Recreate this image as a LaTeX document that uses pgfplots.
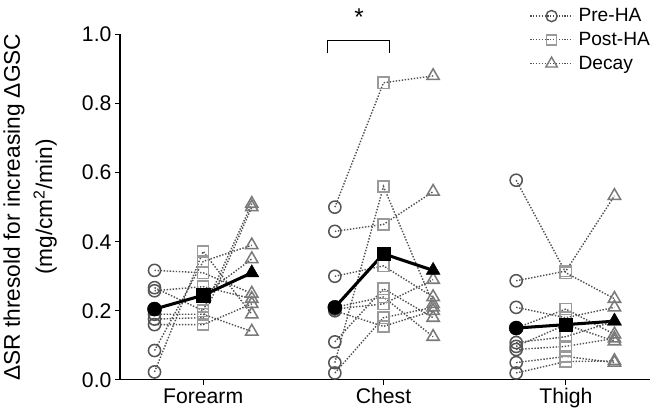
\documentclass[border=0pt]{standalone}
\usepackage{fontspec}
\setmainfont{Liberation Sans}
\usepackage{pgfplots}
\pgfplotsset{compat=1.18}
\definecolor{precol}{HTML}{555555}
\definecolor{postcol}{HTML}{9A9A9A}
\definecolor{decaycol}{HTML}{7A7A7A}
\definecolor{linecol}{HTML}{505050}
\pgfplotsset{
  subj/.style={forget plot, no marks, color=linecol, line width=1.4bp, dash pattern=on 1.4bp off 1.6bp},
  premk/.style={only marks, mark=o, mark size=6bp, mark options={draw=precol, line width=1.5bp, fill=none}},
  postmk/.style={only marks, mark=square, mark size=5.5bp, mark options={draw=postcol, line width=1.5bp, fill=none}},
  decaymk/.style={only marks, mark=triangle, mark size=7bp, mark options={draw=decaycol, line width=1.5bp, fill=none}},
}
\begin{document}
\begin{tikzpicture}
\begin{axis}[
  scale only axis, width=523bp, height=341bp,
  xmin=127, xmax=650, ymin=0, ymax=1,
  axis x line=bottom, axis y line=left,
  axis line style={-, line width=1.2bp, black},
  xtick={209,387,567}, xticklabels={Forearm,Chest,Thigh},
  ytick={0,0.2,0.4,0.6,0.8,1.0},
  yticklabel style={/pgf/number format/.cd, fixed, fixed zerofill, precision=1},
  /pgf/number format/assume math mode=true,
  tick align=outside, major tick length=5bp,
  tick style={black, line width=1.2bp},
  ticklabel style={font=\fontsize{21}{24}\selectfont},
  xticklabel style={yshift=0bp},
  ylabel={ΔSR thresold for increasing ΔGSC\\(mg/cm\textsuperscript{2}/min)},
  ylabel style={align=center, font=\fontsize{22.5}{32}\selectfont, yshift=18bp},
  clip=false,
  legend style={draw=none, fill=none, at={(rel axis cs:1.01,1.078)}, anchor=north east,
    font=\fontsize{19}{22}\selectfont, row sep=7bp, cells={anchor=west}, inner sep=0pt,
    nodes={inner xsep=5bp, inner ysep=1bp}},
  legend image code/.code={\draw[mark repeat=2,mark phase=2,#1] plot coordinates {(0bp,0bp) (21bp,0bp) (42bp,0bp)};},
]
\addlegendimage{color=linecol, line width=1.2bp, dash pattern=on 1.2bp off 1.6bp, mark=o, mark size=5.5bp, mark options={draw=precol, line width=1.4bp, solid, fill=none}}
\addlegendentry{Pre-HA}
\addlegendimage{color=linecol, line width=1.2bp, dash pattern=on 1.2bp off 1.6bp, mark=square, mark size=5bp, mark options={draw=postcol, line width=1.4bp, solid, fill=none}}
\addlegendentry{Post-HA}
\addlegendimage{color=linecol, line width=1.2bp, dash pattern=on 1.2bp off 1.6bp, mark=triangle, mark size=6.5bp, mark options={draw=decaycol, line width=1.4bp, solid, fill=none}}
\addlegendentry{Decay}

% Forearm subjects
\addplot[subj] coordinates {(161,0.317) (209,0.310) (257,0.250)};
\addplot[subj] coordinates {(161,0.267) (209,0.200) (257,0.510)};
\addplot[subj] coordinates {(161,0.258) (209,0.270) (257,0.235)};
\addplot[subj] coordinates {(161,0.205) (209,0.245) (257,0.350)};
\addplot[subj] coordinates {(161,0.176) (209,0.180) (257,0.500)};
\addplot[subj] coordinates {(161,0.160) (209,0.160) (257,0.220)};
\addplot[subj] coordinates {(161,0.085) (209,0.343) (257,0.390)};
\addplot[subj] coordinates {(161,0.023) (209,0.372) (257,0.190)};
\addplot[subj] coordinates {(161,0.190) (209,0.190) (257,0.140)};
% Chest subjects
\addplot[subj] coordinates {(339,0.500) (387,0.860) (436,0.880)};
\addplot[subj] coordinates {(339,0.430) (387,0.450) (436,0.545)};
\addplot[subj] coordinates {(339,0.300) (387,0.330) (436,0.240)};
\addplot[subj] coordinates {(339,0.210) (387,0.240) (436,0.125)};
\addplot[subj] coordinates {(339,0.050) (387,0.560) (436,0.220)};
\addplot[subj] coordinates {(339,0.110) (387,0.264) (436,0.180)};
\addplot[subj] coordinates {(339,0.205) (387,0.220) (436,0.290)};
\addplot[subj] coordinates {(339,0.020) (387,0.180) (436,0.210)};
\addplot[subj] coordinates {(339,0.200) (387,0.155) (436,0.200)};
% Thigh subjects
\addplot[subj] coordinates {(518,0.578) (567,0.310) (615,0.235)};
\addplot[subj] coordinates {(518,0.287) (567,0.315) (615,0.533)};
\addplot[subj] coordinates {(518,0.210) (567,0.180) (615,0.210)};
\addplot[subj] coordinates {(518,0.150) (567,0.205) (615,0.132)};
\addplot[subj] coordinates {(518,0.108) (567,0.125) (615,0.170)};
\addplot[subj] coordinates {(518,0.097) (567,0.160) (615,0.112)};
\addplot[subj] coordinates {(518,0.088) (567,0.097) (615,0.120)};
\addplot[subj] coordinates {(518,0.050) (567,0.068) (615,0.050)};
\addplot[subj] coordinates {(518,0.020) (567,0.053) (615,0.055)};

% markers
\addplot[premk, forget plot] coordinates {
 (161,0.317) (161,0.267) (161,0.258) (161,0.205) (161,0.176) (161,0.160) (161,0.085) (161,0.023) (161,0.190)
 (339,0.500) (339,0.430) (339,0.300) (339,0.210) (339,0.050) (339,0.110) (339,0.205) (339,0.020) (339,0.200)
 (518,0.578) (518,0.287) (518,0.210) (518,0.150) (518,0.108) (518,0.097) (518,0.088) (518,0.050) (518,0.020)};
\addplot[postmk, forget plot] coordinates {
 (209,0.310) (209,0.200) (209,0.270) (209,0.245) (209,0.180) (209,0.160) (209,0.343) (209,0.372) (209,0.190)
 (387,0.860) (387,0.450) (387,0.330) (387,0.240) (387,0.560) (387,0.264) (387,0.220) (387,0.180) (387,0.155)
 (567,0.310) (567,0.315) (567,0.180) (567,0.205) (567,0.125) (567,0.160) (567,0.097) (567,0.068) (567,0.053)};
\addplot[decaymk, forget plot] coordinates {
 (257,0.250) (257,0.510) (257,0.235) (257,0.350) (257,0.500) (257,0.220) (257,0.390) (257,0.190) (257,0.140)
 (436,0.880) (436,0.545) (436,0.240) (436,0.125) (436,0.220) (436,0.180) (436,0.290) (436,0.210) (436,0.200)
 (615,0.235) (615,0.533) (615,0.210) (615,0.132) (615,0.170) (615,0.112) (615,0.120) (615,0.050) (615,0.055)};

% means
\addplot[forget plot, black, line width=3bp, mark=none] coordinates {(161,0.205) (209,0.245) (257,0.310)};
\addplot[forget plot, black, line width=3bp, mark=none] coordinates {(339,0.210) (387,0.365) (436,0.317)};
\addplot[forget plot, black, line width=3bp, mark=none] coordinates {(518,0.150) (567,0.160) (615,0.170)};
\addplot[forget plot, only marks, mark=*, mark size=7bp, black] coordinates {(161,0.205) (339,0.210) (518,0.150)};
\addplot[forget plot, only marks, mark=square*, mark size=6.5bp, black] coordinates {(209,0.245) (387,0.365) (567,0.160)};
\addplot[forget plot, only marks, mark=triangle*, mark size=8bp, black] coordinates {(257,0.310) (436,0.317) (615,0.170)};

% significance bracket
\draw[line width=1.2bp, black] (axis cs:332,0.945) -- (axis cs:332,0.982) -- (axis cs:393,0.982) -- (axis cs:393,0.945);
\node[font=\fontsize{24}{26}\selectfont] at (axis cs:363,1.05) {*};
% top margin of the picture
\path (rel axis cs:0,1.0997);
\end{axis}
\end{tikzpicture}
\end{document}
